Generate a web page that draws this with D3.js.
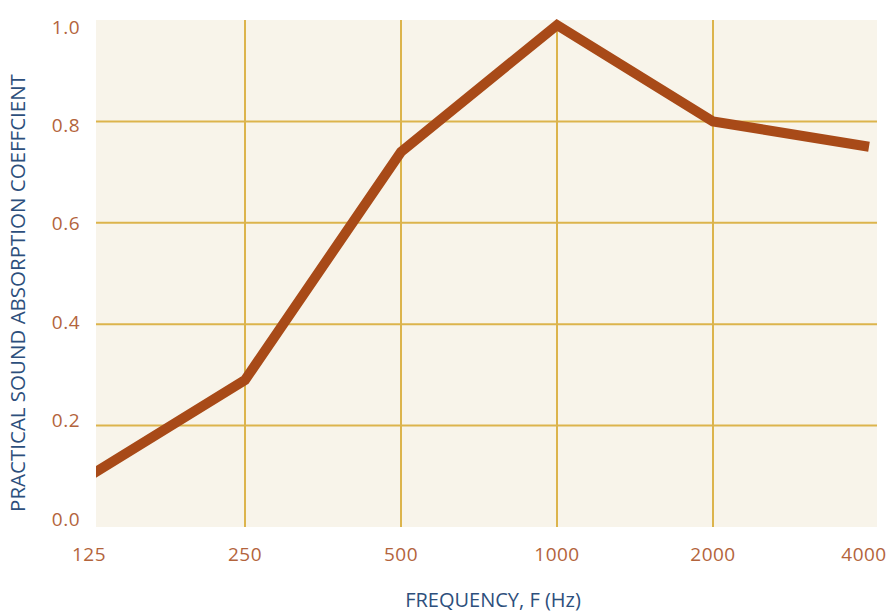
<!DOCTYPE html>
<html>
<head>
<meta charset="utf-8">
<script src="https://cdn.jsdelivr.net/npm/d3@7"></script>
<style>
  body { margin: 0; background: #fff; }
  svg { display: block; }
</style>
</head>
<body>
<div id="chart"></div>
<script>
// Données du graphique
const frequencies = [125, 250, 500, 1000, 2000, 4000];
const absorption = [0.10, 0.29, 0.74, 0.99, 0.80, 0.75];
const yTicks = [0, 0.2, 0.4, 0.6, 0.8, 1.0];

const width = 889;
const height = 612;

// Zone de tracé
const plot = { left: 96, right: 877, top: 20, bottom: 527 };

const svg = d3.select('#chart')
    .append('svg')
    .attr('width', width)
    .attr('height', height);

// Échelles
const x = d3.scaleLog().base(2)
    .domain([125, 4000])
    .range([89, 869]);

const y = d3.scaleLinear()
    .domain([0, 1])
    .range([plot.bottom, plot.top]);

// les étiquettes de l'axe Y sont un peu resserrées vers le centre
const yLab = d3.scaleLinear()
    .domain([0, 1])
    .range([519, 27]);

// Fond
svg.append('rect')
    .attr('x', plot.left)
    .attr('y', plot.top)
    .attr('width', plot.right - plot.left)
    .attr('height', plot.bottom - plot.top)
    .attr('fill', '#f8f4ea');

svg.append('clipPath')
    .attr('id', 'clip')
    .append('rect')
    .attr('x', plot.left)
    .attr('y', plot.top - 10)
    .attr('width', plot.right - plot.left)
    .attr('height', plot.bottom - plot.top + 10);

// Grille
const grid = svg.append('g').attr('class', 'grid');

grid.selectAll('line.h')
    .data(yTicks.filter(d => d > 0 && d < 1))
    .enter().append('line')
    .attr('class', 'h')
    .attr('x1', plot.left)
    .attr('x2', plot.right)
    .attr('y1', d => y(d))
    .attr('y2', d => y(d))
    .attr('stroke', '#dcb44c')
    .attr('stroke-width', 2);

grid.selectAll('line.v')
    .data(frequencies.slice(1, -1))
    .enter().append('line')
    .attr('class', 'v')
    .attr('x1', d => x(d))
    .attr('x2', d => x(d))
    .attr('y1', plot.top)
    .attr('y2', plot.bottom)
    .attr('stroke', '#dcb44c')
    .attr('stroke-width', 2);

// Courbe
const line = d3.line()
    .x((d, i) => x(frequencies[i]))
    .y(d => y(d));

svg.append('path')
    .datum(absorption)
    .attr('clip-path', 'url(#clip)')
    .attr('d', line)
    .attr('fill', 'none')
    .attr('stroke', '#a84a18')
    .attr('stroke-width', 10)
    .attr('stroke-linejoin', 'miter');

// Étiquettes des axes
const tickFont = "'Open Sans', sans-serif";

svg.append('g')
    .selectAll('text')
    .data(yTicks)
    .enter().append('text')
    .attr('x', 80)
    .attr('y', d => yLab(d))
    .attr('dy', '0.35em')
    .attr('text-anchor', 'end')
    .attr('font-family', tickFont)
    .attr('font-size', 19)
    .attr('font-weight', 500)
    .attr('letter-spacing', 0.5)
    .attr('fill', '#b3643c')
    .text(d => d.toFixed(1));

svg.append('g')
    .selectAll('text')
    .data(frequencies)
    .enter().append('text')
    .attr('x', d => Math.min(x(d), 864))
    .attr('y', 554)
    .attr('dy', '0.35em')
    .attr('text-anchor', 'middle')
    .attr('font-family', tickFont)
    .attr('font-size', 19)
    .attr('font-weight', 500)
    .attr('letter-spacing', 0.5)
    .attr('fill', '#b3643c')
    .text(d => d);

// Titres
svg.append('text')
    .attr('x', 493)
    .attr('y', 600)
    .attr('dy', '0.35em')
    .attr('text-anchor', 'middle')
    .attr('font-family', tickFont)
    .attr('font-size', 20)
    .attr('fill', '#2d4f7c')
    .text('FREQUENCY, F (Hz)');

svg.append('text')
    .attr('transform', 'translate(18,293) rotate(-90)')
    .attr('dy', '0.35em')
    .attr('text-anchor', 'middle')
    .attr('font-family', tickFont)
    .attr('font-size', 20.5)
    .attr('fill', '#2d4f7c')
    .text('PRACTICAL SOUND ABSORPTION COEFFCIENT');
</script>
</body>
</html>
